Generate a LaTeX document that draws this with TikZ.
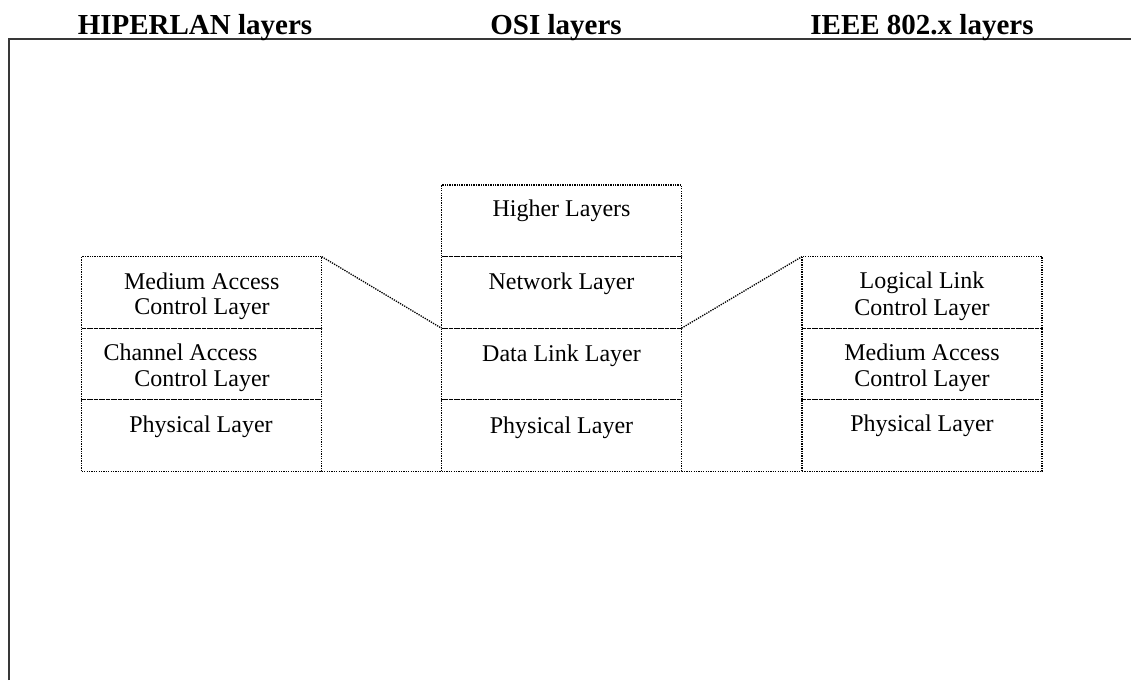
\documentclass[tikz,border=0pt]{standalone}
\usepackage{fontspec}
\setmainfont{Liberation Serif}
\begin{document}
\begin{tikzpicture}[x=1pt,y=-1pt,
  layerbox/.style={draw=black, line width=1.3pt, dash pattern=on 1.3pt off 1.1pt, rectangle,
    minimum width=240pt, minimum height=71.6pt, inner sep=0pt, outer sep=0pt},
  link/.style={draw=black, line width=1.3pt, dash pattern=on 1.3pt off 1.1pt},
  heading/.style={font=\fontsize{29}{34}\selectfont\bfseries, anchor=base, inner sep=0pt},
  txt/.style={font=\fontsize{24}{28}\selectfont, anchor=base, inner sep=0pt},
  frameline/.style={draw=black!78, line width=2pt}]
\useasboundingbox (0,0) rectangle (1131,680);
% frame
\coordinate (fb) at (9,680);
\coordinate (fc) at (9,39);
\coordinate (fr) at (1131,39);
\draw[frameline] (fb) -- (fc) -- (fr);
% headings
\node[heading] (h1) at (195,34) {HIPERLAN layers};
\node[heading] (h2) at (556,34) {OSI layers};
\node[heading] (h3) at (922,34) {IEEE 802.x layers};
% left stack
\node[layerbox] (L1) at (201.7,292.4) {};
\node[layerbox] (L2) at (201.7,364.0) {};
\node[layerbox] (L3) at (201.7,435.6) {};
% middle stack
\node[layerbox] (M1) at (561.5,220.8) {};
\node[layerbox] (M2) at (561.5,292.4) {};
\node[layerbox] (M3) at (561.5,364.0) {};
\node[layerbox] (M4) at (561.5,435.6) {};
% right stack
\node[layerbox] (R1) at (922,292.4) {};
\node[layerbox] (R2) at (922,364.0) {};
\node[layerbox] (R3) at (922,435.6) {};
% connectors
\draw[link] (L1.north east) -- (M3.north west);
\draw[link] (M3.north east) -- (R1.north west);
\draw[link] (L3.south east) -- (M4.south west);
\draw[link] (M4.south east) -- (R3.south west);
% left texts
\node[txt] (l1a) at (201.7,289.3) {Medium Access};
\node[txt] (l1b) at (202,314.5) {Control Layer};
\node[txt, anchor=base west] (l2a) at (103.3,360.7) {Channel Access};
\node[txt] (l2b) at (202,386.7) {Control Layer};
\node[txt] (l3a) at (201,432.7) {Physical Layer};
% middle texts
\node[txt] (m1a) at (561.5,216.7) {Higher Layers};
\node[txt] (m2a) at (561.5,289) {Network Layer};
\node[txt] (m3a) at (561.5,361.2) {Data Link Layer};
\node[txt] (m4a) at (561.5,433) {Physical Layer};
% right texts
\node[txt] (r1a) at (922,288.3) {Logical Link};
\node[txt] (r1b) at (922,315) {Control Layer};
\node[txt] (r2a) at (922,360) {Medium Access};
\node[txt] (r2b) at (922,386.7) {Control Layer};
\node[txt] (r3a) at (922,431.7) {Physical Layer};
\end{tikzpicture}
\end{document}
